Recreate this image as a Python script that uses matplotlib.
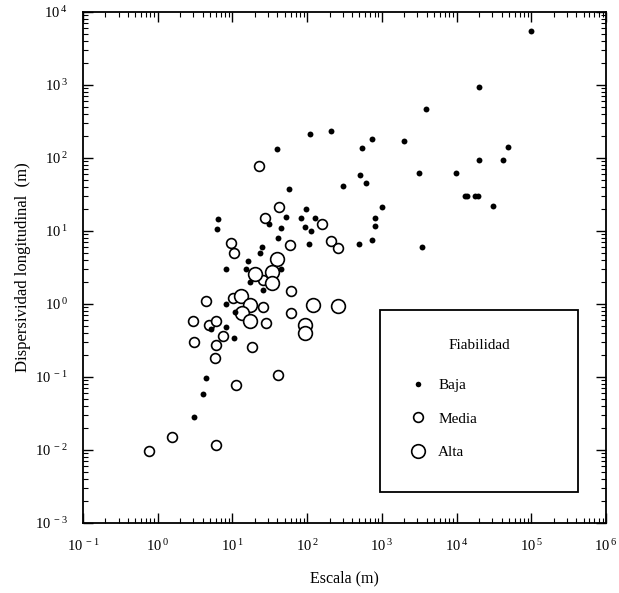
import math
import matplotlib
matplotlib.use("Agg")
import matplotlib.pyplot as plt
from matplotlib.ticker import LogLocator, FuncFormatter, NullFormatter
from matplotlib.patches import Rectangle
from matplotlib.lines import Line2D

plt.rcParams['font.family'] = ['Liberation Serif', 'DejaVu Serif']
plt.rcParams['mathtext.fontset'] = 'custom'
plt.rcParams['mathtext.rm'] = 'Liberation Serif'

# Fiabilidad baja (puntos)
baja_x = [1.0e5, 2.0e4, 3900, 110, 210, 740, 540, 2000, 4.9e4, 2.0e4, 4.2e4,
          510, 610, 3100, 9700, 300, 58, 12800, 13600, 17900, 19600, 3.1e4,
          1000, 810, 810, 740, 490, 3400, 106, 97, 52, 83, 128, 94, 113, 45,
          41, 39, 6.5, 6.3, 31, 25, 23.6, 16.3, 15.4, 8.3, 17.4, 45, 26, 8.1,
          11, 8.3, 5.1, 10.6, 4.5, 4.1, 3.1]
baja_y = [5500, 950, 470, 215, 235, 180, 137, 170, 142, 94, 94,
          58, 45, 62, 62, 41, 38, 30, 30, 30, 30, 22,
          21, 15, 11.7, 7.5, 6.6, 6.0, 6.6, 20, 15.5, 15, 15, 11.4, 10, 11,
          8.0, 133, 14.6, 10.6, 12.5, 6.0, 5.0, 3.9, 3.0, 3.0, 2.0, 3.0, 1.55, 1.0,
          0.78, 0.48, 0.45, 0.34, 0.097, 0.058, 0.028]

# Fiabilidad media (círculos pequeños)
media_x = [23, 27.5, 42, 158, 59, 209, 260, 9.7, 10.6, 26, 61, 61, 10.3, 26,
           28, 4.5, 3.0, 4.9, 6.1, 7.4, 3.1, 6.1, 18.5, 5.8, 41, 11.3, 1.54,
           0.76, 6.1]
media_y = [78, 15, 21, 12.5, 6.4, 7.3, 5.9, 6.9, 5.0, 2.1, 1.5, 0.75, 1.2, 0.91,
           0.55, 1.1, 0.58, 0.52, 0.58, 0.36, 0.30, 0.27, 0.26, 0.18, 0.106,
           0.078, 0.015, 0.0097, 0.0117]

# Fiabilidad alta (círculos grandes)
alta_x = [40, 20, 34, 34, 13, 17, 13.6, 17.4, 120, 260, 94, 94]
alta_y = [4.1, 2.6, 2.7, 1.95, 1.3, 0.97, 0.75, 0.58, 0.97, 0.94, 0.52, 0.40]

legend_labels = ['Baja', 'Media', 'Alta']
legend_title = 'Fiabilidad'

x_lim = (0.1, 1e6)
y_lim = (1e-3, 1e4)

fig = plt.figure(figsize=(6.19, 5.93), dpi=100)
ax = fig.add_axes([0.134, 0.118, 0.845, 0.862])

ax.scatter(baja_x, baja_y, s=18, c='black', marker='o', linewidths=0, zorder=3)
ax.scatter(media_x, media_y, s=50, facecolors='white', edgecolors='black',
           linewidths=1.2, zorder=2)
ax.scatter(alta_x, alta_y, s=98, facecolors='white', edgecolors='black',
           linewidths=1.2, zorder=2)

ax.set_xscale('log')
ax.set_yscale('log')
ax.set_xlim(*x_lim)
ax.set_ylim(*y_lim)

fmt = FuncFormatter(lambda v, p: r'$\mathregular{10^{\,%d}}$' % round(math.log10(v)))
for axis in (ax.xaxis, ax.yaxis):
    axis.set_major_locator(LogLocator(base=10, numticks=20))
    axis.set_minor_locator(LogLocator(base=10, subs=range(2, 10), numticks=20))
    axis.set_major_formatter(fmt)
    axis.set_minor_formatter(NullFormatter())

ax.tick_params(which='both', direction='in', top=True, right=True, color='black')
ax.tick_params(which='major', length=7, width=1.0, labelsize=10.5)
ax.tick_params(which='minor', length=3.5, width=0.8)
ax.tick_params(axis='x', which='major', pad=11)
ax.tick_params(axis='y', which='major', pad=11)
for sp in ax.spines.values():
    sp.set_linewidth(1.3)

ax.set_xlabel('Escala (m)', fontsize=11.5, labelpad=12)
ax.set_ylabel('Dispersividad longitudinal  (m)', fontsize=12, labelpad=3)

# Legend box
ax.add_patch(Rectangle((0.568, 0.061), 0.378, 0.356, transform=ax.transAxes,
                       facecolor='white', edgecolor='black', linewidth=1.3, zorder=4))
ax.text(0.757, 0.347, legend_title, transform=ax.transAxes, ha='center',
        va='center', fontsize=11, zorder=5)
handles = [
    Line2D([], [], linestyle='none', marker='o', markersize=4, markerfacecolor='black',
           markeredgecolor='black', markeredgewidth=0),
    Line2D([], [], linestyle='none', marker='o', markersize=7, markerfacecolor='white',
           markeredgecolor='black', markeredgewidth=1.2),
    Line2D([], [], linestyle='none', marker='o', markersize=9.8, markerfacecolor='white',
           markeredgecolor='black', markeredgewidth=1.2),
]
leg = ax.legend(handles, legend_labels, loc='upper left',
                bbox_to_anchor=(0.625, 0.283), frameon=False, fontsize=11,
                labelspacing=1.3, handletextpad=0.75, handlelength=1.1,
                borderpad=0, borderaxespad=0)
leg.set_zorder(6)

fig.savefig('out.png', dpi=100)
